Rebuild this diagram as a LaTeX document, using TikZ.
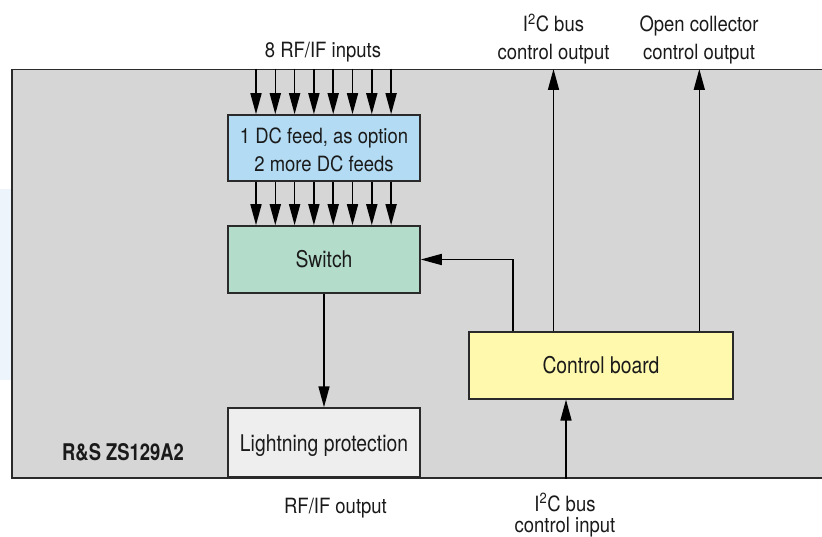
\documentclass[tikz,border=0pt]{standalone}
\usepackage{fontspec}
\setmainfont{TeX Gyre Heros}[FakeStretch=0.88]
\newfontfamily\boxfont{TeX Gyre Heros}[FakeStretch=0.84]
\newfontfamily\rsfont{TeX Gyre Heros}[FakeStretch=0.8]
\usetikzlibrary{arrows.meta,calc}
\definecolor{bgray}{HTML}{D6D6D6}
\definecolor{strip}{HTML}{EEF4FC}
\definecolor{dcblue}{HTML}{B3DCF4}
\definecolor{swgreen}{HTML}{B3DCCB}
\definecolor{cbyellow}{HTML}{FFF9AD}
\definecolor{lpgray}{HTML}{EEEEEE}
\definecolor{ink}{HTML}{1A1A1A}
\definecolor{edge}{HTML}{2A2A2A}
\tikzset{
  txt/.style={font=\fontsize{21}{24}\selectfont, text=ink, inner sep=0pt, anchor=base},
  blk/.style={draw=edge, line width=1.5pt, inner sep=0pt, text=ink, align=center,
    font=\boxfont\fontsize{23}{28}\selectfont, text height=17pt, text depth=0pt},
  arr/.style={draw=black, line width=1.6pt, -{Triangle[length=21pt,width=11pt]}},
}
\begin{document}
\begin{tikzpicture}[x=1pt,y=-1pt]
\useasboundingbox (0,0) rectangle (822,537);
\fill[white] (0,0) rectangle (822,537);
\fill[strip] (0,189) rectangle (11,380);
\node[draw=edge, fill=bgray, line width=1.5pt, anchor=north west, inner sep=0pt,
  minimum width=830pt, minimum height=408pt] (zs) at (11,69) {};

\node[draw=edge, line width=1.5pt, inner sep=0pt, text=ink, align=center,
  font=\fontsize{21}{28}\selectfont, fill=dcblue, minimum width=192pt, minimum height=66pt] (dc) at (324,148)
  {\rule{0pt}{18.6pt}1 DC feed, as option\\2 more DC feeds};
\node[blk, fill=swgreen, minimum width=192pt, minimum height=67pt] (sw) at (324,259.5) {Switch};
\node[blk, fill=lpgray, minimum width=192pt, minimum height=69pt] (lp) at (324,442.5) {Lightning protection};
\node[blk, fill=cbyellow, minimum width=264pt, minimum height=67pt] (cb) at (601,365.3) {Control board};

\node[txt, anchor=base west, font=\rsfont\bfseries\fontsize{23}{26}\selectfont] (rs) at (62,460) {R\&S ZS129A2};

% labels
\node[txt] (lin) at (323,58) {8 RF/IF inputs};
\node[txt] (lo1a) at (553.5,32) {I\textsuperscript{2}C bus};
\node[txt] (lo1b) at (553.5,59.5) {control output};
\node[txt] (lo2a) at (699,32) {Open collector};
\node[txt] (lo2b) at (699,59.5) {control output};
\node[txt] (lrf) at (335.5,513) {RF/IF output};
\node[txt] (lina) at (565,511.5) {I\textsuperscript{2}C bus};
\node[txt] (linb) at (565,532) {control input};

% connectors
\foreach \i in {0,...,7} {
  \coordinate (c\i) at ({256+19.3*\i},0);
  \draw[arr] (c\i |- zs.north) -- (c\i |- dc.north);
  \draw[arr] (c\i |- dc.south) -- (c\i |- sw.north);
}
\draw[arr] (sw.south) -- (lp.north);
\coordinate (fb) at (512.7,0);
\draw[arr] (fb |- cb.north) |- (sw.east);
\coordinate (o1) at (553.5,0);
\draw[arr] (o1 |- cb.north) -- (o1 |- zs.north);
\coordinate (o2) at (699.3,0);
\draw[arr] (o2 |- cb.north) -- (o2 |- zs.north);
\coordinate (bi) at (566,0);
\draw[arr] (bi |- zs.south) -- (bi |- cb.south);
\end{tikzpicture}
\end{document}
